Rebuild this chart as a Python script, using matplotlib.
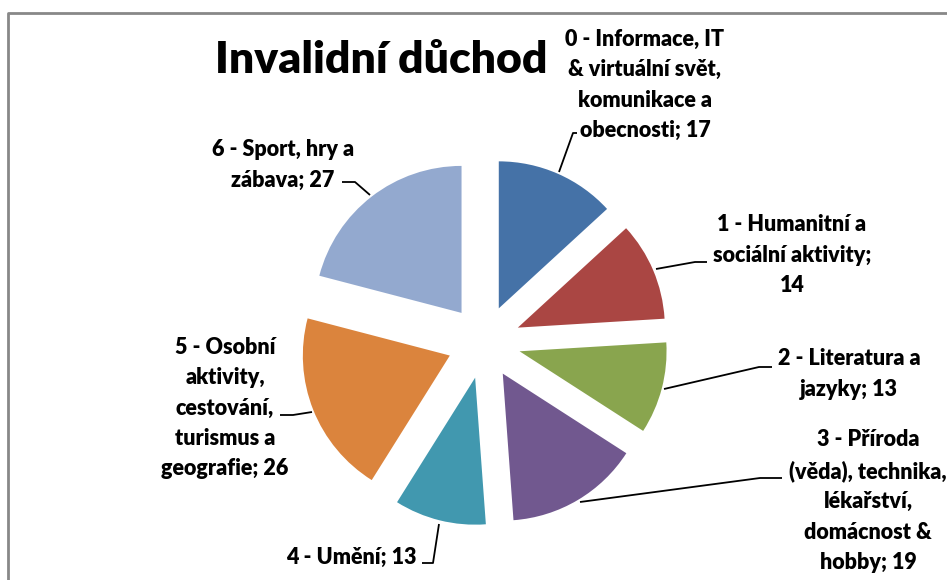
import matplotlib
matplotlib.use("Agg")
import matplotlib.pyplot as plt

categories = [
    "0 - Informace, IT\n& virtuální svět,\nkomunikace a\nobecnosti",
    "1 - Humanitní a\nsociální aktivity;\n",
    "2 - Literatura a\njazyky",
    "3 - Příroda\n(věda), technika,\nlékařství,\ndomácnost &\nhobby",
    "4 - Umění",
    "5 - Osobní\naktivity,\ncestování,\nturismus a\ngeografie",
    "6 - Sport, hry a\nzábava",
]
values = [17, 14, 13, 19, 13, 26, 27]
colors = ["#4572A7", "#AA4643", "#89A54E", "#71588F", "#4198AF", "#DB843D", "#93A9CF"]
title = "Invalidní důchod"

W, H = 947, 580
fig = plt.figure(figsize=(W / 100, H / 100), dpi=100)
ax = fig.add_axes([0, 0, 1, 1])

def Y(y):
    return H - y

R = 147
ax.pie(values, colors=colors, startangle=90, counterclock=False,
       center=(484, Y(342)), radius=R, explode=[0.25 * R] * len(values),
       wedgeprops=dict(linewidth=0))
ax.set_xlim(0, W)
ax.set_ylim(0, H)
ax.set_aspect("equal")
ax.axis("off")

font = ["Lato", "DejaVu Sans"]
ax.text(381, Y(60), title, ha="center", va="center", fontsize=32,
        fontweight="heavy", family=font)

labels = []
for c, v in zip(categories, values):
    if c.endswith(";\n"):
        labels.append(c + str(v))
    else:
        labels.append(f"{c}; {v}")

label_pos = [(645, 85), (792, 255), (849, 374), (868, 501), (351, 557), (225, 408), (283, 165)]
for lab, (x, y) in zip(labels, label_pos):
    ax.text(x, Y(y), lab, ha="center", va="center", fontsize=15.5, fontweight="heavy",
            family=font, linespacing=1.55)

leaders = [
    [(577, 133), (573, 133), (559, 172)],
    [(707, 262), (695, 262), (656, 269)],
    [(772, 367), (759, 367), (664, 389)],
    [(782, 478), (760, 478), (580, 502)],
    [(422, 563), (433, 563), (439, 524)],
    [(280, 415), (293, 415), (312, 412)],
    [(342, 182), (355, 182), (370, 195)],
]
for pts in leaders:
    ax.plot([p[0] for p in pts], [Y(p[1]) for p in pts], color="black", lw=1.3,
            solid_capstyle="butt")

# chart border
ax.plot([8, 8, W + 5], [-5, Y(13), Y(13)], color="#888888", lw=2)

fig.savefig("out.png", dpi=100)
